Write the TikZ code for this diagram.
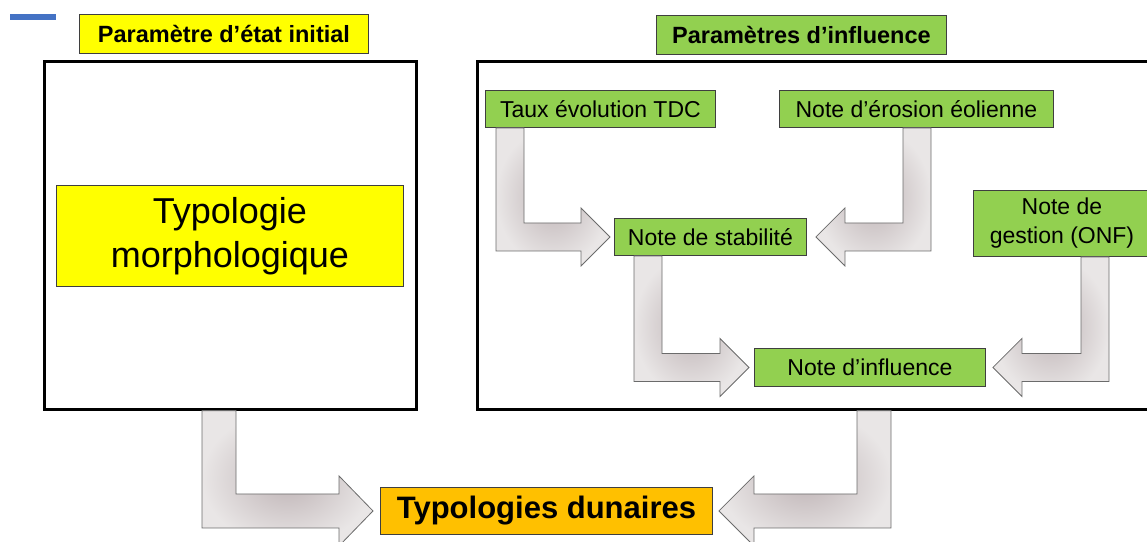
\documentclass[tikz,border=0pt]{standalone}
\usepackage{fontspec}
\setmainfont{Liberation Sans}
\usetikzlibrary{calc}

\definecolor{paryellow}{HTML}{FFFF00}
\definecolor{pargreen}{HTML}{92D050}
\definecolor{parorange}{HTML}{FFC000}
\definecolor{parblue}{HTML}{4472C4}
\definecolor{boxedge}{HTML}{3F3F3F}
\definecolor{arrowedge}{HTML}{6B6B6B}
\definecolor{arrowin}{RGB}{190,179,181}
\definecolor{arrowout}{RGB}{233,230,230}

\tikzset{
  box/.style={draw=boxedge, line width=0.9pt, inner sep=0pt, anchor=north west, align=center},
  title/.style={box, font=\fontsize{23.5}{28}\selectfont\bfseries},
  note/.style={box, fill=pargreen, font=\fontsize{23}{29}\selectfont},
  frame/.style={draw=black, line width=2.6pt, inner sep=0pt, anchor=north west},
  blockarrow/.style={draw=arrowedge, line width=0.8pt, line join=miter,
    inner color=arrowin, outer color=arrowout},
}

% Bent block arrow: #1 source node, #2 shaft centre x, #3 target node,
% #4 target anchor, #5 direction (1 right, -1 left), #6 shaft half width,
% #7 head half width, #8 head length, #9 gap before the target
\newcommand\blockarrow[9]{%
  \path[blockarrow] let \p1=(#1.south), \p2=(#3.#4) in
    ({(#2-(#5)*#6)*1pt},\y1) -- ({(#2+(#5)*#6)*1pt},\y1)
    -- ({(#2+(#5)*#6)*1pt},{\y2+#6pt})
    -- ({\x2-(#5)*(#9+#8)*1pt},{\y2+#6pt})
    -- ({\x2-(#5)*(#9+#8)*1pt},{\y2+#7pt})
    -- ({\x2-(#5)*#9*1pt},\y2)
    -- ({\x2-(#5)*(#9+#8)*1pt},{\y2-#7pt})
    -- ({\x2-(#5)*(#9+#8)*1pt},{\y2-#6pt})
    -- ({(#2-(#5)*#6)*1pt},{\y2-#6pt}) -- cycle;}

\begin{document}
\begin{tikzpicture}[x=1pt,y=-1pt]
\useasboundingbox (0,0) rectangle (1147,541);

\fill[parblue] (10,14) rectangle (56,20);

% frames
\node[frame, minimum width=372, minimum height=348] (leftframe) at (43,60) {};
\node[frame, minimum width=680, minimum height=348] (rightframe) at (476,60) {};

% headings
\node[title, fill=paryellow, minimum width=289, minimum height=39] (inithead) at (79,14) {Paramètre d’état initial};
\node[title, fill=pargreen, minimum width=290, minimum height=39] (inflhead) at (656,15) {Paramètres d’influence};

% initial state
\node[box, fill=paryellow, minimum width=347, minimum height=101,
      font=\fontsize{36}{44}\selectfont] (morpho) at (56,185) {Typologie\\morphologique};

% influence parameters
\node[note, minimum width=230, minimum height=37] (taux) at (485,90) {Taux évolution TDC};
\node[note, minimum width=274, minimum height=37] (erosion) at (779,90) {Note d’érosion éolienne};
\node[note, minimum width=192, minimum height=37] (stab) at (614,218) {Note de stabilité};
\node[note, minimum width=177, minimum height=66] (gestion) at (973,190) {Note de\\gestion (ONF)};
\node[note, minimum width=231, minimum height=38] (influence) at (754,348) {Note d’influence};

% result
\node[box, fill=parorange, minimum width=332, minimum height=47,
      font=\fontsize{31}{36}\selectfont\bfseries] (typo) at (380,487) {Typologies dunaires};

% arrows
\blockarrow{taux}{510}{stab}{west}{1}{14}{29}{29}{4}
\blockarrow{erosion}{917}{stab}{east}{-1}{14}{29}{29}{9}
\blockarrow{stab}{648}{influence}{west}{1}{14}{29}{29}{5}
\blockarrow{gestion}{1095}{influence}{east}{-1}{14}{29}{29}{7}
\blockarrow{leftframe}{219}{typo}{west}{1}{17}{35}{34}{7}
\blockarrow{rightframe}{874}{typo}{east}{-1}{17}{35}{35}{6}
\end{tikzpicture}
\end{document}
